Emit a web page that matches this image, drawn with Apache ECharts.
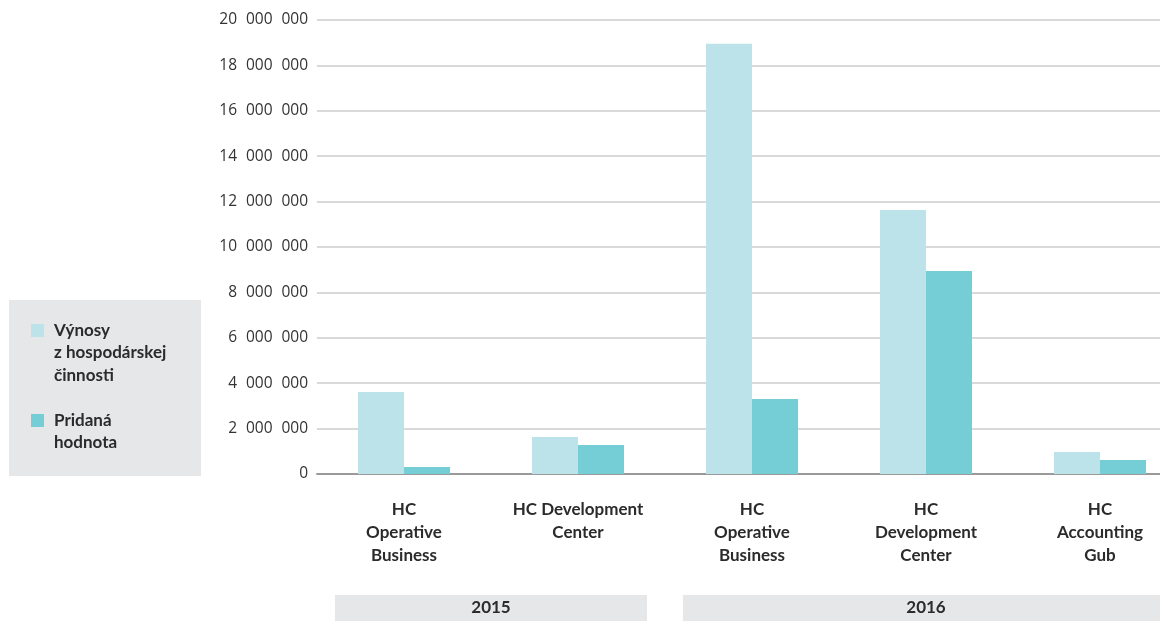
<!DOCTYPE html>
<html>
<head>
<meta charset="utf-8">
<script src="https://cdn.jsdelivr.net/npm/echarts@6/dist/echarts.min.js"></script>
<style>
html,body{margin:0;padding:0;background:#fff;}
#main{width:1160px;height:621px;}
</style>
</head>
<body>
<div id="main"></div>
<script>
const categories = ["HC\nOperative\nBusiness", "HC Development\nCenter", "HC\nOperative\nBusiness", "HC\nDevelopment\nCenter", "HC\nAccounting\nGub"];
const years = ["2015", "2016"];
const yearSpans = [[0, 1], [2, 4]];
const seriesNames = ["Výnosy z hospodárskej činnosti", "Pridaná hodnota"];
const legendLabels = ["Výnosy\nz hospodárskej\nčinnosti", "Pridaná\nhodnota"];
const vynosy = [3610000, 1630000, 18950000, 11630000, 970000];
const pridana = [310000, 1280000, 3300000, 8940000, 620000];
const yTicks = { min: 0, max: 20000000, interval: 2000000 };

const colors = ["#bce3e9", "#75ced6"];
const FONT = "Lato";

function fmt(v) {
  return String(v).replace(/\B(?=(\d{3})+(?!\d))/g, "\u2007");
}

const chart = echarts.init(document.getElementById('main'));
const lh = 22.5;
function legendFor(i, iconCenter) {
  const lines = legendLabels[i].split("\n");
  const pad = new Array(lines.length - 1).fill("");
  const text = pad.concat(lines).join("\n");
  const total = pad.length + lines.length;
  return {
    orient: 'vertical',
    left: 31,
    top: iconCenter - total * lh / 2,
    padding: 0,
    itemWidth: 18,
    itemHeight: 13,
    itemGap: 0,
    icon: 'path://M0,0H13V13H0Z M18,13',
    selectedMode: false,
    data: [{ name: seriesNames[i] }],
    formatter: () => text,
    textStyle: {
      fontFamily: FONT, fontWeight: 'bold', fontSize: 17, color: '#2b2b2b',
      lineHeight: lh
    }
  };
}

const option = {
  animation: false,
  color: colors,
  grid: { left: 317, top: 20, width: 870, height: 454, outerBoundsMode: 'none', containLabel: false },
  legend: [legendFor(0, 330.5), legendFor(1, 420.5)],
  xAxis: {
    type: 'category',
    data: categories,
    axisTick: { show: false },
    axisLine: { show: true, lineStyle: { color: '#9a9a9a', width: 2 } },
    axisLabel: {
      interval: 0, margin: 24,
      fontFamily: FONT, fontWeight: 'bold', fontSize: 17, color: '#2b2b2b',
      lineHeight: 23
    }
  },
  yAxis: {
    type: 'value',
    min: yTicks.min, max: yTicks.max, interval: yTicks.interval,
    axisLine: { show: false },
    axisTick: { show: false },
    splitLine: { lineStyle: { color: '#cdcdcd', width: 1.5 } },
    axisLabel: {
      margin: 9,
      fontFamily: 'Open Sans', fontSize: 15.5, color: '#333',
      formatter: fmt
    }
  },
  series: [
    { name: seriesNames[0], type: 'bar', data: vynosy, barWidth: 46, barGap: '0%' },
    { name: seriesNames[1], type: 'bar', data: pridana, barWidth: 46, barGap: '0%' }
  ]
};
chart.setOption(option);

const c0 = chart.convertToPixel({ xAxisIndex: 0 }, 0);
const c1 = chart.convertToPixel({ xAxisIndex: 0 }, 1);
const band = c1 - c0;
const graphics = [
  { type: 'rect', z: -10, shape: { x: 9, y: 300, width: 192, height: 176 }, style: { fill: '#e6e7e9' } }
];
years.forEach((y, i) => {
  const a = chart.convertToPixel({ xAxisIndex: 0 }, yearSpans[i][0]) - band / 2 + 18;
  const b = chart.convertToPixel({ xAxisIndex: 0 }, yearSpans[i][1]) + band / 2 - 18;
  graphics.push({ type: 'rect', shape: { x: a, y: 595, width: b - a, height: 30 }, style: { fill: '#e6e7e9' } });
  graphics.push({ type: 'text', x: (a + b) / 2, y: 608, style: { text: y, align: 'center', verticalAlign: 'middle', fontFamily: FONT, fontWeight: 'bold', fontSize: 17, fill: '#2b2b2b' } });
});
chart.setOption({ graphic: graphics });
</script>
</body>
</html>
